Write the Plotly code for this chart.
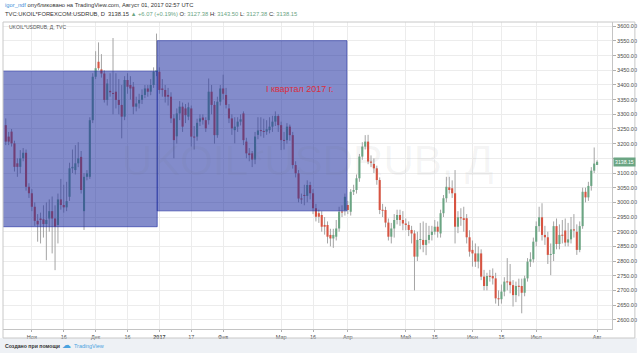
import plotly.graph_objects as go
import pandas as pd

# ---------------- data (daily candles, 19 Oct 2016 .. 01 Aug 2017) ----------------
opens = [
    3263, 3224, 3241, 3201, 3133, 3121, 3150, 3169, 3053, 3031,
    2985, 2937, 2945, 2942, 2926, 2945, 2970, 2945, 2923, 3010,
    2991, 2983, 3019, 3116, 3110, 3133, 3155, 2970, 3087, 3087,
    3280, 3428, 3479, 3453, 3439, 3349, 3380, 3372, 3377, 3349,
    3332, 3292, 3417, 3400, 3394, 3326, 3337, 3349, 3366, 3388,
    3377, 3400, 3445, 3445, 3388, 3383, 3366, 3360, 3286, 3225,
    3303, 3326, 3320, 3292, 3320, 3224, 3224, 3275, 3289, 3280,
    3280, 3377, 3332, 3229, 3343, 3388, 3366, 3320, 3286, 3246,
    3258, 3275, 3303, 3207, 3167, 3167, 3146, 3230, 3246, 3243,
    3241, 3246, 3258, 3275, 3294, 3263, 3212, 3212, 3258, 3229,
    3127, 3099, 3013, 3025, 3022, 3059, 3031, 2980, 2963, 2957,
    2923, 2923, 2889, 2877, 2883, 2911, 2968, 2974, 2991, 2968,
    3036, 3042, 3082, 3156, 3190, 3207, 3139, 3131, 3116, 3076,
    2974, 2974, 2931, 2883, 2911, 2940, 2957, 2940, 2928, 2923,
    2906, 2894, 2815, 2872, 2872, 2855, 2872, 2889, 2900, 2917,
    2894, 2963, 3014, 3051, 3048, 3031, 2917, 2949, 2946, 2946,
    2881, 2838, 2826, 2798, 2826, 2747, 2715, 2749, 2749, 2741,
    2673, 2670, 2696, 2730, 2730, 2718, 2684, 2715, 2715, 2692,
    2741, 2798, 2806, 2866, 2919, 2949, 2889, 2881, 2821, 2824,
    2919, 2858, 2889, 2904, 2863, 2874, 2908, 2900, 2838, 2919,
    3036, 3017, 3056, 3108, 3127.38,
]
highs = [
    3286, 3240, 3250, 3210, 3150, 3178, 3185, 3180, 3065, 3045,
    3000, 2960, 2965, 2990, 3000, 3010, 3020, 2990, 3030, 3080,
    3060, 3070, 3135, 3180, 3195, 3205, 3175, 3100, 3110, 3290,
    3440, 3515, 3545, 3505, 3450, 3420, 3440, 3560, 3440, 3420,
    3400, 3430, 3440, 3430, 3410, 3360, 3370, 3385, 3400, 3400,
    3420, 3460, 3575, 3460, 3420, 3400, 3390, 3375, 3300, 3320,
    3345, 3340, 3335, 3340, 3330, 3260, 3285, 3300, 3300, 3290,
    3422, 3400, 3345, 3360, 3400, 3435, 3390, 3335, 3300, 3290,
    3290, 3300, 3310, 3220, 3185, 3175, 3240, 3290, 3290, 3285,
    3280, 3290, 3295, 3310, 3300, 3275, 3240, 3270, 3265, 3240,
    3140, 3110, 3030, 3060, 3075, 3070, 3045, 2995, 2975, 2970,
    2950, 2935, 2910, 2910, 2940, 2985, 2990, 3030, 3005, 3045,
    3060, 3095, 3165, 3205, 3229, 3230, 3160, 3150, 3125, 3085,
    2995, 2985, 2945, 2930, 2960, 2975, 2975, 2970, 2945, 2935,
    2920, 2905, 2900, 2930, 2935, 2930, 2920, 2920, 2940, 2935,
    2975, 3025, 3087, 3087, 3075, 3110, 2970, 2980, 2985, 2960,
    2905, 2870, 2860, 2850, 2840, 2770, 2760, 2770, 2775, 2760,
    2700, 2720, 2745, 2810, 2790, 2735, 2730, 2740, 2740, 2750,
    2810, 2830, 2880, 2935, 2985, 2997, 2920, 2900, 2860, 2935,
    2945, 2925, 2940, 2945, 2930, 2950, 2960, 2925, 2935, 3050,
    3050, 3070, 3120, 3187, 3143.50,
]
lows = [
    3195, 3195, 3190, 3105, 3087, 3099, 3140, 3040, 3015, 2970,
    2920, 2866, 2860, 2880, 2803, 2900, 2826, 2769, 2860, 2975,
    2965, 2970, 3005, 3100, 3095, 3120, 3030, 2906, 3075, 3080,
    3270, 3420, 3450, 3425, 3340, 3330, 3360, 3300, 3320, 3300,
    3218, 3280, 3370, 3350, 3300, 3310, 3320, 3335, 3355, 3360,
    3365, 3390, 3430, 3370, 3360, 3340, 3330, 3270, 3150, 3200,
    3280, 3240, 3270, 3280, 3190, 3180, 3210, 3260, 3265, 3240,
    3265, 3300, 3200, 3220, 3330, 3350, 3320, 3270, 3230, 3201,
    3240, 3262, 3195, 3150, 3140, 3120, 3130, 3215, 3225, 3220,
    3230, 3235, 3240, 3260, 3240, 3178, 3180, 3200, 3210, 3115,
    3085, 3000, 2995, 2990, 3000, 3010, 2960, 2935, 2930, 2900,
    2890, 2860, 2850, 2845, 2870, 2900, 2950, 2955, 2960, 2955,
    3025, 3030, 3070, 3145, 3180, 3130, 3120, 3100, 3060, 2960,
    2950, 2915, 2870, 2860, 2880, 2925, 2920, 2905, 2905, 2885,
    2860, 2700, 2800, 2840, 2830, 2820, 2860, 2870, 2890, 2880,
    2880, 2950, 3000, 3030, 3015, 2860, 2895, 2920, 2900, 2860,
    2815, 2781, 2780, 2775, 2735, 2700, 2700, 2730, 2720, 2655,
    2647, 2655, 2680, 2700, 2690, 2645, 2660, 2680, 2622, 2680,
    2730, 2780, 2795, 2850, 2900, 2870, 2855, 2790, 2752, 2800,
    2840, 2840, 2860, 2850, 2850, 2860, 2880, 2821, 2830, 2910,
    3000, 3005, 3040, 3100, 3127.38,
]
closes = [
    3207, 3207, 3201, 3121, 3121, 3150, 3169, 3053, 3031, 2985,
    2937, 2925, 2940, 2926, 2940, 2970, 2945, 2917, 3010, 2991,
    2983, 3004, 3116, 3121, 3133, 3150, 3042, 3087, 3099, 3280,
    3428, 3457, 3457, 3439, 3349, 3405, 3375, 3370, 3349, 3332,
    3292, 3417, 3394, 3388, 3326, 3337, 3349, 3366, 3388, 3377,
    3400, 3445, 3450, 3383, 3383, 3360, 3360, 3286, 3212, 3303,
    3326, 3258, 3297, 3324, 3224, 3221, 3271, 3286, 3280, 3252,
    3377, 3332, 3229, 3343, 3388, 3370, 3332, 3286, 3252, 3258,
    3275, 3283, 3212, 3167, 3161, 3146, 3224, 3245, 3243, 3240,
    3249, 3258, 3275, 3294, 3263, 3212, 3210, 3258, 3229, 3127,
    3099, 3013, 3010, 3022, 3059, 3031, 2980, 2951, 2951, 2917,
    2917, 2883, 2877, 2889, 2911, 2968, 2966, 3019, 2974, 3036,
    3042, 3082, 3156, 3190, 3207, 3139, 3135, 3116, 3076, 2974,
    2972, 2931, 2883, 2911, 2940, 2957, 2940, 2928, 2923, 2906,
    2894, 2815, 2872, 2875, 2855, 2872, 2889, 2900, 2917, 2900,
    2963, 3014, 3053, 3042, 3031, 2917, 2949, 2946, 2940, 2881,
    2832, 2826, 2798, 2826, 2747, 2715, 2749, 2747, 2741, 2673,
    2670, 2696, 2730, 2728, 2718, 2684, 2715, 2713, 2692, 2741,
    2798, 2806, 2866, 2919, 2949, 2889, 2881, 2821, 2824, 2919,
    2858, 2889, 2887, 2863, 2874, 2908, 2904, 2838, 2919, 3036,
    3017, 3056, 3108, 3132.08, 3138.15,
]

tick_dates = ["2016-11-01", "2016-11-16", "2016-12-01", "2016-12-16", "2017-01-02",
              "2017-01-17", "2017-02-01", "2017-03-01", "2017-03-16", "2017-04-03",
              "2017-05-01", "2017-05-15", "2017-06-01", "2017-06-15", "2017-07-03",
              "2017-08-01"]
tick_labels = ["Ноя", "16", "Дек", "16", "<b>2017</b>", "17", "Фев", "Мар", "16", "Апр",
               "Май", "15", "Июн", "15", "Июл", "Авг"]
price_levels = [2600, 2650, 2700, 2750, 2800, 2850, 2900, 2950, 3000, 3050, 3100,
                3150, 3200, 3250, 3300, 3350, 3400, 3450, 3500, 3550, 3600]

symbol_title = "UKOIL*USDRUB, Д"
legend_text = "UKOIL*USDRUB, Д, TVC"
q1_label = "I квартал 2017 г."
publisher = "igor_ndf"
published_text = "опубликовано на TradingView.com, Август 01, 2017 02:57 UTC"
ticker_text = "TVC:UKOIL*FOREXCOM:USDRUB, D"
footer_text = "Создано при помощи"
brand_text = "TradingView"

# ---------------- styling ----------------
UP = "#6ba583"
DOWN = "#d75442"
WICK = "#a4a4a4"
FONT = "Liberation Sans, Arial, sans-serif"

trade_days = pd.bdate_range("2016-10-19", "2017-08-01")
tick_pos = [trade_days.get_loc(pd.Timestamp(d)) for d in tick_dates]

wick_x, wick_y, up_x, up_y, dn_x, dn_y = [], [], [], [], [], []
MIN_BODY = 3.5
for i, (o, h, l, c) in enumerate(zip(opens, highs, lows, closes)):
    wick_x += [i, i, None]
    wick_y += [l, h, None]
    lo, hi = min(o, c), max(o, c)
    if hi - lo < MIN_BODY:
        mid = (hi + lo) / 2
        lo, hi = mid - MIN_BODY / 2, mid + MIN_BODY / 2
    if c >= o:
        up_x += [i, i, None]; up_y += [lo, hi, None]
    else:
        dn_x += [i, i, None]; dn_y += [lo, hi, None]

last = closes[-1]
prev = closes[-2]
chg = last - prev
chg_pct = chg / prev * 100

# the last-price badge covers the nearest price label (as on the original)
price_text = ["" if abs(v - last) < 25 else f"{v:.2f}" for v in price_levels]

W, H = 640, 353
ML, MR, MT, MB = 3, 25, 22, 24


def pxx(x):
    return (x - ML) / (W - ML - MR)


def pxy(y):
    return (H - MB - y) / (H - MT - MB)


fig = go.Figure()
fig.add_trace(go.Scatter(x=wick_x, y=wick_y, mode="lines",
                         line=dict(color=WICK, width=1), hoverinfo="skip"))
fig.add_trace(go.Scatter(x=up_x, y=up_y, mode="lines",
                         line=dict(color=UP, width=2.1), hoverinfo="skip"))
fig.add_trace(go.Scatter(x=dn_x, y=dn_y, mode="lines",
                         line=dict(color=DOWN, width=2.1), hoverinfo="skip"))

G = UP
header2 = (f"{ticker_text}  {last:.2f} <span style='color:{G}'>▲ +{chg:.2f} (+{chg_pct:.2f}%)</span> "
           f"O: <span style='color:{G}'>{opens[-1]:.2f}</span> H: <span style='color:{G}'>{highs[-1]:.2f}</span> "
           f"L: <span style='color:{G}'>{lows[-1]:.2f}</span> C: <span style='color:{G}'>{last:.2f}</span>")

BOX_FILL = "rgba(30,45,160,0.55)"
BOX_LINE = "rgba(30,45,160,0.62)"
shapes = [
    dict(type="rect", xref="paper", yref="paper", x0=pxx(0), x1=pxx(640), y0=pxy(338), y1=pxy(353),
         fillcolor="#eef1f5", line=dict(width=0), layer="below"),
    dict(type="rect", xref="x", yref="y", x0=-3, x1=52.25, y0=2917, y1=3447,
         fillcolor=BOX_FILL, line=dict(color=BOX_LINE, width=1)),
    dict(type="rect", xref="x", yref="y", x0=52.25, x1=117.7, y0=2971, y1=3551,
         fillcolor=BOX_FILL, line=dict(color=BOX_LINE, width=1)),
    dict(type="rect", xref="paper", yref="paper", x0=pxx(3), x1=pxx(638), y0=pxy(338), y1=pxy(22),
         line=dict(color="#c8c8c8", width=1), fillcolor="rgba(0,0,0,0)"),
]

annotations = [
    dict(xref="paper", yref="paper", x=pxx(309), y=pxy(160), text=symbol_title, showarrow=False,
         font=dict(family=FONT, size=42, color="rgba(110,110,110,0.07)")),
    dict(xref="x", yref="y", x=101.2, y=3386, text=q1_label, showarrow=False,
         font=dict(family=FONT, size=9, color="#dc2d3c")),
    dict(xref="paper", yref="paper", x=pxx(3), y=pxy(5.5), xanchor="left", yanchor="middle",
         text=f"<span style='color:#3d8fd8'>{publisher}</span> {published_text}", showarrow=False,
         font=dict(family=FONT, size=5.8, color="#333333")),
    dict(xref="paper", yref="paper", x=pxx(3), y=pxy(14), xanchor="left", yanchor="middle",
         text=header2, showarrow=False, font=dict(family=FONT, size=5.8, color="#333333")),
    dict(xref="paper", yref="paper", x=pxx(7), y=pxy(26.5), xanchor="left", yanchor="middle",
         text=legend_text, showarrow=False, font=dict(family=FONT, size=5, color="#555555")),
    dict(xref="paper", yref="y", x=1.0, y=last, xanchor="left", yanchor="middle", xshift=1,
         text=f"{last:.2f}", showarrow=False, bgcolor=UP, borderpad=1,
         font=dict(family=FONT, size=5.2, color="white")),
    dict(xref="paper", yref="paper", x=pxx(3), y=pxy(345.5), xanchor="left", yanchor="middle",
         text=f"<b>{footer_text}</b>", showarrow=False, font=dict(family=FONT, size=5.2, color="#333333")),
    dict(xref="paper", yref="paper", x=pxx(60), y=pxy(345), xanchor="left", yanchor="middle",
         text="☁", showarrow=False, font=dict(family="DejaVu Sans", size=9, color="#4aa3df")),
    dict(xref="paper", yref="paper", x=pxx(72), y=pxy(345.5), xanchor="left", yanchor="middle",
         text=brand_text, showarrow=False, font=dict(family=FONT, size=5.4, color="#4aa3df")),
]

fig.update_layout(
    width=W, height=H,
    margin=dict(l=ML, r=MR, t=MT, b=MB, pad=0),
    paper_bgcolor="white", plot_bgcolor="white",
    showlegend=False,
    shapes=shapes, annotations=annotations,
    hovermode=False,
    xaxis=dict(range=[-0.955, 209.14], tickmode="array", tickvals=tick_pos, ticktext=tick_labels,
               tickfont=dict(family=FONT, size=5.5, color="#4a4a4a"), showgrid=True,
               gridcolor="#ececec", gridwidth=1, showline=True, linecolor="#c4c4c4",
               ticks="outside", ticklen=2, tickcolor="#b0b0b0", zeroline=False, fixedrange=True),
    yaxis=dict(range=[2568.5, 3614.5], side="right", tickmode="array", tickvals=price_levels,
               ticktext=price_text,
               tickfont=dict(family=FONT, size=5.5, color="#4a4a4a"), showgrid=True,
               gridcolor="#ececec", gridwidth=1, showline=True, linecolor="#c4c4c4",
               ticks="outside", ticklen=3, tickcolor="#b0b0b0", zeroline=False, fixedrange=True),
)

fig.write_html("out.html")
